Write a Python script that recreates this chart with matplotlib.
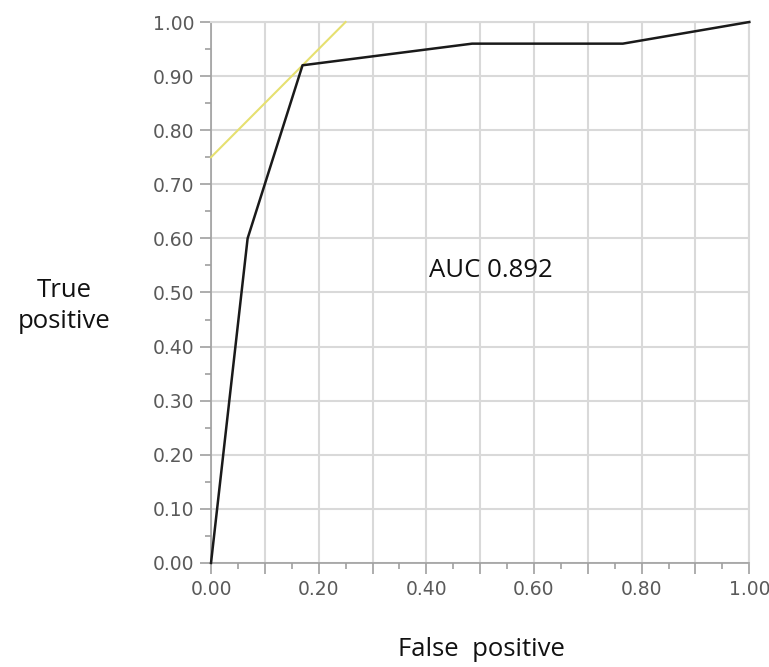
import numpy as np
import matplotlib.pyplot as plt
from matplotlib.ticker import MultipleLocator, FuncFormatter

# ROC curve points
fpr = [0.0, 0.068, 0.17, 0.485, 0.765, 1.0]
tpr = [0.0, 0.60, 0.92, 0.96, 0.96, 1.0]

# tangent line (slope 1)
tan_x = [0.0, 0.25]
tan_y = [0.75, 1.0]

auc_text = "AUC 0.892"

plt.rcParams['font.family'] = ['Open Sans', 'DejaVu Sans']

fig = plt.figure(figsize=(7.69, 6.67), dpi=100)
ax = fig.add_axes([0.2744, 0.156, 0.7, 0.811])

grid_c = '#d9d9d9'
ax.set_xlim(0, 1)
ax.set_ylim(0, 1)
ax.xaxis.set_major_locator(MultipleLocator(0.1))
ax.xaxis.set_minor_locator(MultipleLocator(0.05))
ax.yaxis.set_major_locator(MultipleLocator(0.1))
ax.yaxis.set_minor_locator(MultipleLocator(0.05))
ax.xaxis.set_major_formatter(FuncFormatter(
    lambda v, p: f"{v:.2f}" if round(v * 10) % 2 == 0 else ""))
ax.yaxis.set_major_formatter(FuncFormatter(lambda v, p: f"{v:.2f}"))
ax.grid(True, which='major', color=grid_c, lw=1.5, zorder=0)

for s in ['top', 'right']:
    ax.spines[s].set_color(grid_c)
    ax.spines[s].set_linewidth(1.5)
for s in ['left', 'bottom']:
    ax.spines[s].set_color('#a0a0a0')
    ax.spines[s].set_linewidth(1.2)

ax.tick_params(which='major', length=8, width=1.2, color='#a0a0a0',
               labelsize=13.5, labelcolor='#5a5a5a', pad=4)
ax.tick_params(which='minor', length=4, width=1.2, color='#a0a0a0')
for lab in ax.get_xticklabels() + ax.get_yticklabels():
    lab.set_family(['DejaVu Sans'])

ax.plot(tan_x, tan_y, color='#e6e070', lw=1.5, zorder=3, clip_on=False)
ax.plot(fpr, tpr, color='#1a1a1a', lw=1.8, zorder=4, clip_on=False)

ax.text(0.52, 0.54, auc_text, fontsize=18.5, ha='center', va='center',
        color='#111111')

fig.text(64 / 769, 1 - 306 / 667, "True\npositive", fontsize=18.5,
         ha='center', va='center', linespacing=1.35, color='#111111')
fig.text(481 / 769, 1 - 650 / 667, "False  positive", fontsize=18.5,
         ha='center', va='center', color='#111111')

fig.savefig('out.png', dpi=100)
